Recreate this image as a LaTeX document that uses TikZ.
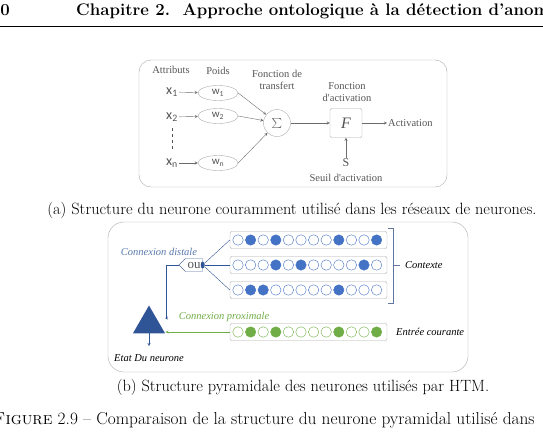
\documentclass[tikz,border=0pt]{standalone}
\usepackage{fontspec}
\usepackage{amsmath,amssymb}
\usetikzlibrary{positioning}
\usetikzlibrary{shapes.geometric,shapes.symbols}
\newfontfamily\diag{Liberation Serif}
\newfontfamily\diagsans{Carlito}
\definecolor{dblue}{RGB}{47,85,151}
\definecolor{cblue}{RGB}{68,114,196}
\definecolor{cgreen}{RGB}{112,173,71}
\definecolor{lgray}{RGB}{170,170,170}
\definecolor{tgray}{RGB}{85,85,85}
\tikzset{
  lbl/.style={font=\diag\fontsize{10.5}{11.5}\selectfont,text=tgray,align=center,inner sep=1pt},
  ilbl/.style={font=\diag\itshape\fontsize{10.5}{11.5}\selectfont,inner sep=1pt},
  xin/.style={font=\diagsans\fontsize{14}{14}\selectfont,text=tgray,inner sep=1pt},
  wnode/.style={ellipse,draw=lgray,minimum width=40pt,minimum height=15pt,inner sep=0pt,
    font=\diagsans\fontsize{11}{11}\selectfont,text=tgray},
  garr/.style={->,>=stealth,draw=gray!85!black},
  rowbox/.style={draw=lgray,rounded corners=2pt,minimum width=157pt,minimum height=17pt},
  cell/.style={circle,draw=cblue,minimum size=10.5pt,inner sep=0pt},
  barr/.style={->,>=stealth,draw=dblue},
  captxt/.style={font=\fontsize{16.3}{19}\selectfont},
}
\begin{document}
\begin{tikzpicture}[x=1pt,y=-1pt]
  \useasboundingbox (0,0) rectangle (543,439);
  \clip (0,0) rectangle (543,439);

  % page head
  \node[anchor=base east,font=\bfseries\fontsize{16.8}{20}\selectfont,inner sep=0] (pnum) at (10,16) {40};
  \node[anchor=base west,font=\bfseries\fontsize{16.8}{20}\selectfont,inner sep=0] (head) at (76,16)
    {Chapitre 2.\ \ Approche ontologique à la détection d'anomalies};
  \draw[line width=0.8pt] (0,26) -- (543,26);

  % (a) neurone classique
  \draw[lgray,rounded corners=12pt] (139,60) rectangle (447,187);
  \node[lbl] (attr) at (171,70) {Attributs};
  \node[lbl] (poids) at (218,71) {Poids};
  \node[lbl] (ftrans) at (277,80) {Fonction de\\transfert};
  \node[lbl] (fact) at (347,92) {Fonction\\d'activation};

  \node[xin] (x1) at (172,92) {x\textsubscript{1}};
  \node[xin] (x2) at (172,117) {x\textsubscript{2}};
  \node[xin] (xn) at (172,163) {x\textsubscript{n}};
  \coordinate (d1) at (172,128);
  \coordinate (d2) at (172,151);
  \draw[tgray,dashed,line width=0.8pt] (d1) -- (d2);

  \node[wnode] (w1) at (218,93) {w\textsubscript{1}};
  \node[wnode] (w2) at (218,116) {w\textsubscript{2}};
  \node[wnode] (wn) at (218,163) {w\textsubscript{n}};
  \draw[garr] (x1) -- (w1);
  \draw[garr] (x2) -- (w2);
  \draw[garr] (xn) -- (wn);

  \node[circle,draw=lgray,minimum size=27pt,inner sep=0pt,text=tgray] (sum) at (277,123) {$\sum$};
  \draw[garr] (w1.east) -- (sum);
  \draw[garr] (w2.east) -- (sum);
  \draw[garr] (wn.east) -- (sum);

  \node[draw=lgray,rounded corners=2pt,minimum width=32pt,minimum height=29pt,
    font=\diag\itshape\fontsize{16}{16}\selectfont,text=tgray] (F) at (346,123) {F};
  \draw[garr] (sum) -- (F);
  \node[lbl,anchor=west] (act) at (387,123) {Activation};
  \draw[garr] (F) -- (act);
  \node[lbl,font=\diag\fontsize{12}{12}\selectfont] (S) at (346,163) {S};
  \node[lbl] (seuil) at (346,178) {Seuil d'activation};
  \draw[garr] (S) -- (F);

  \node[captxt] (capa) at (292,210)
    {(a) Structure du neurone couramment utilisé dans les réseaux de neurones.};

  % (b) neurone HTM
  \draw[lgray,rounded corners=16pt] (108,222) rectangle (468,372);
  \foreach \r/\y/\col/\pat in {1/240/cblue/{0,1,0,1,0,0,0,0,1,0,0,1},
                               2/265/cblue/{0,0,0,1,0,1,0,0,0,0,1,0},
                               3/290/cblue/{0,1,1,0,0,0,0,0,1,0,0,0},
                               4/332/cgreen/{0,1,0,1,0,0,0,0,1,0,0,1}}{
    \node[rowbox] (r\r) at (308.5,\y) {};
    \foreach \v [count=\k] in \pat {
      \ifnum\v=1
        \node[cell,draw=\col,fill=\col] (c\r-\k) at ({238+12.6*(\k-1)},\y) {};
      \else
        \node[cell,draw=\col] (c\r-\k) at ({238+12.6*(\k-1)},\y) {};
      \fi
    }
  }
  \draw[dblue!60!lgray] (388,228) -- (393,228) -- (393,303) -- (388,303);
  \draw[dblue!60!lgray] (393,265) -- (400,265);
  \node[ilbl,anchor=west] (ctx) at (404,265) {Contexte};
  \node[ilbl,anchor=west] (ecour) at (395,332) {Entrée courante};

  \node[signal,signal to=west,draw=dblue!70!lgray,minimum height=13pt,inner xsep=2pt,inner ysep=0pt,
    font=\diag\fontsize{13}{13}\selectfont,text=tgray] (ou) at (194,265) {ou};
  \node[ellipse,fill=dblue,minimum width=4pt,minimum height=7pt,inner sep=0pt] (dot) at (ou.east) {};
  \draw[dblue] (dot) -- (r1.west);
  \draw[dblue] (dot) -- (r2.west);
  \draw[dblue] (dot) -- (r3.west);
  \node[ilbl,text=dblue!80!white] (cdist) at (159,252) {Connexion distale};

  \node[regular polygon,regular polygon sides=3,fill=dblue,minimum size=37pt,inner sep=0pt] (neur) at (149,324) {};
  \coordinate (dend) at (165,318);
  \draw[barr] (ou.west) -- ++(-13,0) |- (dend);
  \draw[->,>=stealth,draw=cgreen] (r4.west) -- (r4.west -| neur.corner 3);
  \node[ilbl,text=cgreen] (cprox) at (224,317) {Connexion proximale};
  \coordinate (out) at (149,346);
  \draw[barr] (neur.side 2) -- (out);
  \node[ilbl,anchor=west] (etat) at (113,358) {Etat Du neurone};

  \node[captxt] (capb) at (303,387)
    {(b) Structure pyramidale des neurones utilisés par HTM.};
  \node[anchor=base west,font=\fontsize{17.3}{20}\selectfont,inner sep=0] (capf) at (-7,424)
    {\textsc{Figure} 2.9 -- Comparaison de la structure du neurone pyramidal utilisé dans};
\end{tikzpicture}
\end{document}
